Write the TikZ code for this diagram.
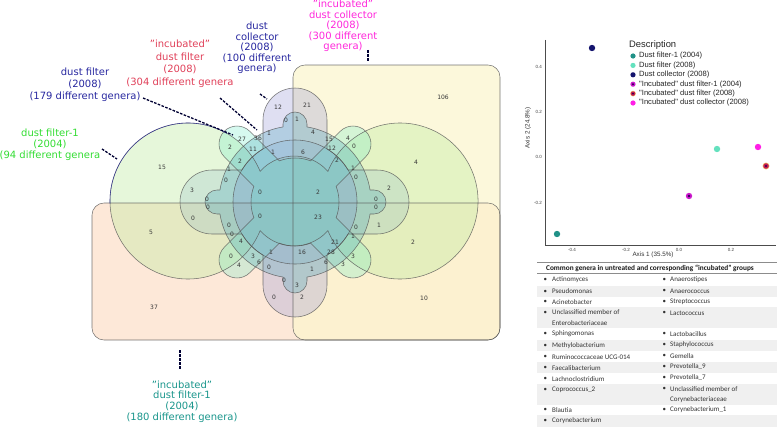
\documentclass[tikz,border=0pt]{standalone}
\usepackage{fontspec}
\setmainfont{DejaVu Sans}
\newfontfamily\arialf{Liberation Sans}
\newfontfamily\calib{Carlito}
\usetikzlibrary{calc}
\definecolor{orf}{RGB}{253,232,216}
\definecolor{yef}{RGB}{252,246,205}
\definecolor{gcf}{RGB}{190,235,160}
\definecolor{vf}{RGB}{150,150,215}
\definecolor{hf}{RGB}{140,185,200}
\definecolor{pf}{RGB}{110,235,200}
\definecolor{cf}{RGB}{80,170,190}
\definecolor{linec}{RGB}{85,85,85}
\definecolor{numc}{RGB}{55,55,55}
\definecolor{lgreen}{RGB}{51,221,51}
\definecolor{lblue}{RGB}{40,40,160}
\definecolor{lred}{RGB}{225,65,90}
\definecolor{lmag}{RGB}{255,40,220}
\definecolor{lteal}{RGB}{26,150,140}
\definecolor{cA}{RGB}{32,145,135}
\definecolor{cB}{RGB}{100,225,190}
\definecolor{cC}{RGB}{20,20,110}
\definecolor{cD}{RGB}{205,25,205}
\definecolor{cDi}{RGB}{40,0,80}
\definecolor{cE}{RGB}{200,30,80}
\definecolor{cEr}{RGB}{240,210,120}
\definecolor{cF}{RGB}{255,30,230}
\definecolor{band}{RGB}{240,240,240}
% tongue segment: angle, length, half width, disk radius, next angle
\newcommand\tng[5]{-- ($(O)+(#1:{#2-#3})+({#1+90}:#3)$)
 arc[start angle={#1+90}, end angle={#1-90}, radius=#3]
 -- ($(O)+({#1-asin(#3/#4)}:#4)$)
 arc[start angle={#1-asin(#3/#4)}, end angle={#5+asin(#3/#4)}, radius=#4]}
\newcommand\pathC{($(O)+({270+asin(12/76)}:76)$) \tng{270}{90}{12}{76}{180}\tng{180}{90}{12}{76}{90}\tng{90}{91}{12}{76}{0}\tng{0}{91}{12}{76}{-90} -- cycle}
\newcommand\pathV{($(O)+({270+asin(32/62)}:62)$) \tng{270}{114}{32}{62}{90}\tng{90}{115}{32}{62}{-90} -- cycle}
\newcommand\pathH{($(O)+({180+asin(32/62)}:62)$) \tng{180}{115}{32}{62}{0}\tng{0}{114}{32}{62}{-180} -- cycle}
\newcommand\pathP{($(O)+({315+asin(18/44)}:44)$) \tng{315}{100}{18}{44}{225}\tng{225}{100}{18}{44}{135}\tng{135}{100}{18}{44}{45}\tng{45}{100}{18}{44}{-45} -- cycle}
\newcommand\pathG{(188,201) ++(22.3:78) arc[start angle=22.3,end angle=337.7,radius=78] arc[start angle=221.2,end angle=318.8,radius=45] arc[start angle=202.3,end angle=517.7,radius=78] arc[start angle=41.2,end angle=138.8,radius=45] -- cycle}
\tikzset{
 num/.style={font=\fontsize{6}{6}\selectfont, text=numc, inner sep=0pt},
 outl/.style={draw=linec, line width=0.55pt, draw opacity=0.8},
 lab/.style={align=center, inner sep=0pt},
 ptr/.style={draw=black!80!blue, line width=1.3pt, dash pattern=on 2.6pt off 1.4pt},
 tick/.style={font=\arialf\fontsize{4.5}{5}\selectfont, inner sep=0pt, text=black!75},
 leg/.style={font=\arialf\fontsize{7.6}{8}\selectfont, anchor=west, inner sep=0pt, text=black!85},
 tab/.style={font=\calib\fontsize{7}{8}\selectfont, anchor=west, inner sep=0pt, text=black!80},
 rule/.style={draw=black!45, line width=0.6pt}
}
\begin{document}
\begin{tikzpicture}[x=1pt,y=-1pt]
\useasboundingbox (0,0) rectangle (778,428);
\fill[white] (0,0) rectangle (778,428);
\coordinate (O) at (295,202);
% ---- fills
\fill[orf, rounded corners=12] (92,203) rectangle (500,340);
\fill[yef, fill opacity=0.7, rounded corners=12] (293,65) rectangle (500,340);
\fill[gcf, fill opacity=0.38] \pathG;
\fill[hf, fill opacity=0.25] \pathH;
\fill[vf, fill opacity=0.3] \pathV;
\fill[pf, fill opacity=0.28] \pathP;
\fill[cf, fill opacity=0.3] \pathC;
% ---- outlines
\draw[outl] \pathG;
\draw[outl] \pathH;
\draw[outl] \pathV;
\draw[outl] \pathP;
\draw[outl] \pathC;
\draw[outl, rounded corners=12] (92,203) rectangle (500,340);
\draw[outl, rounded corners=12] (293,65) rectangle (500,340);
\draw[blue!60!black, line width=0.6pt, opacity=0.55] (188,201) ++(178:78) arc[start angle=178,end angle=300,radius=78];
% ---- numbers
\foreach \x/\y/\t [count=\i] in {
278/107/12, 307/105/21, 286/120/0, 297/119/1,
242/139/27, 258/138/36, 269/133/1, 313/132/4, 329/139/15, 348/138/4,
230/147/2, 253/149/11, 273/152/1, 303/152/6, 332/148/12, 354/146/0,
240/161/2, 337/160/2, 229/169/1, 353/168/1, 226/180/0, 356/177/0,
192/190/3, 260/192/0, 318/192/2, 207/199/0, 376/199/0, 208/207/0, 376/207/0,
193/218/0, 260/216/0, 318/217/23, 229/225/0, 356/227/0, 232/234/0, 353/236/1,
241/241/4, 335/242/21, 231/256/0, 253/256/3, 271/252/1, 302/252/16, 331/252/28, 353/256/3,
239/265/4, 259/262/6, 269/267/0, 312/269/1, 326/262/6, 343/264/3,
284/280/0, 297/285/3, 274/297/0, 302/297/2,
162/167/15, 151/232/5, 154/307/37, 416/162/4, 389/188/2, 379/225/1, 413/242/2, 424/298/10, 443/97/106}
 \node[num] (v\i) at (\x,\y) {\t};
% ---- set labels
\node[lab, text=lgreen, font=\fontsize{10}{11}\selectfont] (Lg) at (50,145) {dust filter-1\\(2004)\\(94 different genera};
\node[lab, text=lblue, font=\fontsize{10}{12}\selectfont] (Lb) at (85,85) {dust filter\\(2008)\\(179 different genera)};
\node[lab, text=lred, font=\fontsize{10}{12.5}\selectfont] (Lr) at (180,63.5) {"incubated"\\dust filter\\(2008)\\(304 different genera};
\node[lab, text=lblue, font=\fontsize{10}{10.5}\selectfont] (Lc) at (257,48) {dust\\collector\\(2008)\\(100 different\\genera)};
\node[lab, text=lmag, font=\fontsize{10}{10.5}\selectfont] (Lm) at (343,26) {"incubated"\\dust collector\\(2008)\\(300 different\\genera)};
\node[lab, text=lteal, font=\fontsize{10}{10.7}\selectfont] (Lt) at (182,401.5) {"incubated"\\dust filter-1\\(2004)\\(180 different genera)};
% ---- pointers
\coordinate (g1) at (102,149); \coordinate (g2) at (117,159);
\coordinate (b1) at (143,98); \coordinate (b2) at (233,135);
\coordinate (r1) at (220,98); \coordinate (r2) at (257,130);
\coordinate (c1) at (260,94); \coordinate (c2) at (267,99);
\coordinate (m1) at (368,50); \coordinate (m2) at (368,61);
\coordinate (t1) at (180,350); \coordinate (t2) at (180,369);
\draw[ptr] (g1) -- (g2);
\draw[ptr] (b1) -- (b2);
\draw[ptr] (r1) -- (r2);
\draw[ptr] (c1) -- (c2);
\draw[ptr] (m1) -- (m2);
\draw[ptr] (t1) -- (t2);
% ---- scatter plot
\coordinate (axT) at (545,40); \coordinate (ax0) at (545,245); \coordinate (axR) at (776,245);
\draw[black!70, line width=0.5pt] (axT) -- (ax0) -- (axR);
\node[tick, anchor=east] (ty1) at (542,67) {0.4};
\node[tick, anchor=east] (ty2) at (542,112) {0.2};
\node[tick, anchor=east] (ty3) at (542,157) {0.0};
\node[tick, anchor=east] (ty4) at (542,203) {-0.2};
\node[tick] (tx1) at (572,249.5) {-0.4};
\node[tick] (tx2) at (626,249.5) {-0.2};
\node[tick] (tx3) at (679,249.5) {0.0};
\node[tick] (tx4) at (731,249.5) {0.2};
\node[font=\arialf\fontsize{6.3}{7}\selectfont, inner sep=0pt, text=black!80] (xt) at (653,254.5) {Axis 1 (35.5\%)};
\node[font=\arialf\fontsize{6.3}{7}\selectfont, inner sep=0pt, text=black!80, rotate=90] (yt) at (528,128) {Axis 2 (24.8\%)};
% points
\coordinate (pA) at (557,234); \coordinate (pB) at (717,149); \coordinate (pC) at (592,48);
\coordinate (pD) at (689,196); \coordinate (pE) at (766,166); \coordinate (pF) at (758,147);
\fill[cA] (pA) circle[radius=3.2];
\fill[cB] (pB) circle[radius=3.2];
\fill[cC] (pC) circle[radius=3.2];
\fill[cD] (pD) circle[radius=3.2]; \fill[cDi] (pD) circle[radius=1.3];
\fill[cEr] (pE) circle[radius=3.5]; \fill[cE] (pE) circle[radius=2.8]; \fill[cDi] (pE) circle[radius=1.2];
\fill[cF] (pF) circle[radius=3.2];
% legend
\node[font=\arialf\fontsize{9.4}{10}\selectfont, anchor=west, inner sep=0pt, text=black!85] (lt) at (629,45) {Description};
\coordinate (l1) at (633,56); \coordinate (l2) at (633,65.4); \coordinate (l3) at (633,74.8);
\coordinate (l4) at (633,84.2); \coordinate (l5) at (633,93.6); \coordinate (l6) at (633,103);
\fill[cA] (l1) circle[radius=2.6];
\fill[cB] (l2) circle[radius=2.6];
\fill[cC] (l3) circle[radius=2.6];
\fill[cD] (l4) circle[radius=2.6]; \fill[cDi] (l4) circle[radius=1.1];
\fill[cEr] (l5) circle[radius=2.9]; \fill[cE] (l5) circle[radius=2.3]; \fill[cDi] (l5) circle[radius=1];
\fill[cF] (l6) circle[radius=2.6];
\node[leg] (e1) at (639,56) {Dust filter-1 (2004)};
\node[leg] (e2) at (639,65.4) {Dust filter (2008)};
\node[leg] (e3) at (639,74.8) {Dust collector (2008)};
\node[leg] (e4) at (639,84.2) {"Incubated" dust filter-1 (2004)};
\node[leg] (e5) at (639,93.6) {"Incubated" dust filter (2008)};
\node[leg] (e6) at (639,103) {"Incubated" dust collector (2008)};
% ---- table
\foreach \a/\b in {286/297, 307/328, 340/351, 362/373, 384/405, 415/427}
 \fill[band] (537,\a) rectangle (777,\b);
\coordinate (tl1) at (537,262); \coordinate (tr1) at (777,262);
\coordinate (tl2) at (537,273.5); \coordinate (tr2) at (777,273.5);
\draw[rule] (tl1) -- (tr1);
\draw[rule] (tl2) -- (tr2);
\node[font=\calib\bfseries\fontsize{7.3}{8}\selectfont, anchor=west, inner sep=0pt, text=black!90] (th) at (546,268) {Common genera in untreated and corresponding “incubated” groups};
\foreach \y/\t [count=\i] in {280/Actinomyces, 291.5/Pseudomonas, 302/Acinetobacter, 312.5/Unclassified member of, 334/Sphingomonas, 345.5/Methylobacterium, 357/Ruminococcaceae UCG-014, 368/Faecalibacterium, 379/Lachnoclostridium, 390/Coprococcus\_2, 410/Blautia, 421/Corynebacterium}
 {\node[tab] (ab\i) at (543.5,\y) {•}; \node[tab] (a\i) at (552,\y) {\t};}
\node[tab] (a0) at (552,323) {Enterobacteriaceae};
\foreach \y/\t [count=\i] in {280/Anaerostipes, 291/Anaerococcus, 302/Streptococcus, 313/Lactococcus, 334/Lactobacillus, 345/Staphylococcus, 356/Gemella, 367/Prevotella\_9, 378/Prevotella\_7, 389/Unclassified member of, 409.5/Corynebacterium\_1}
 {\node[tab] (bb\i) at (662.5,\y) {•}; \node[tab] (b\i) at (670,\y) {\t};}
\node[tab] (b0) at (670,399.5) {Corynebacteriaceae};
\end{tikzpicture}
\end{document}
